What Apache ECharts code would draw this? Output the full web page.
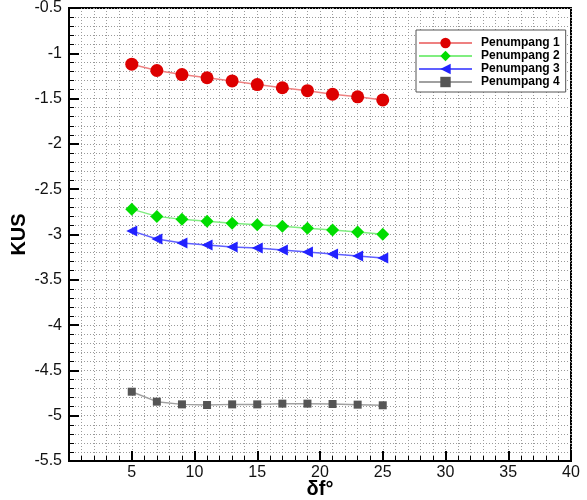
<!DOCTYPE html>
<html>
<head>
<meta charset="utf-8">
<script src="https://cdn.jsdelivr.net/npm/echarts@6/dist/echarts.min.js"></script>
<style>
  html, body { margin: 0; padding: 0; background: #fff; }
  #chart { width: 587px; height: 500px; }
</style>
</head>
<body>
<div id="chart"></div>
<script>
// sudut flap (derajat)
const deltaF = [5, 7, 9, 11, 13, 15, 17, 19, 21, 23, 25]
// KUS per penumpang
const penumpang1 = [-1.12, -1.19, -1.235, -1.27, -1.305, -1.345, -1.38, -1.413, -1.452, -1.48, -1.515]
const penumpang2 = [-2.72, -2.80, -2.833, -2.855, -2.877, -2.892, -2.91, -2.932, -2.95, -2.972, -2.998]
const penumpang3 = [-2.96, -3.05, -3.094, -3.116, -3.138, -3.15, -3.171, -3.193, -3.215, -3.237, -3.26]
const penumpang4 = [-4.735, -4.845, -4.875, -4.882, -4.875, -4.875, -4.867, -4.867, -4.871, -4.878, -4.885]
const seriesNames = ['Penumpang 1', 'Penumpang 2', 'Penumpang 3', 'Penumpang 4']

const chart = echarts.init(document.getElementById('chart'))

const gridLine = { show: true, lineStyle: { color: '#9a9a9a', width: 1, type: [1, 2] } }
const font = 'Liberation Sans, Arial, sans-serif'

function pairs(ys) {
  return deltaF.map((x, i) => [x, ys[i]])
}

const option = {
  animation: false,
  grid: {
    left: 69, right: 16, top: 8, bottom: 39,
    outerBoundsMode: 'none',
    containLabel: false,
    show: true, borderColor: '#000', borderWidth: 2, backgroundColor: '#fff'
  },
  legend: {
    orient: 'vertical',
    left: 416,
    top: 30,
    width: 143,
    padding: [7, 6, 4, 2],
    itemGap: 1,
    itemWidth: 53,
    itemHeight: 13,
    backgroundColor: '#fff',
    borderColor: '#555',
    borderWidth: 1,
    borderRadius: 0,
    textStyle: { fontFamily: font, fontWeight: 'bold', fontSize: 12, color: '#000', padding: [0, 0, 0, 4] },
    data: seriesNames
  },
  xAxis: {
    type: 'value',
    min: 0,
    max: 40,
    interval: 5,
    name: 'δf°',
    nameLocation: 'middle',
    nameGap: 18,
    nameMoveOverlap: false,
    nameTextStyle: { fontFamily: font, fontWeight: 'bold', fontSize: 20, color: '#000' },
    axisLine: { show: true, lineStyle: { color: '#000', width: 2 } },
    axisTick: { show: true, inside: true, length: 10, lineStyle: { color: '#000', width: 2 } },
    minorTick: { show: true, splitNumber: 5, length: 5, lineStyle: { color: '#000', width: 1 } },
    axisLabel: {
      fontFamily: font, fontSize: 16, color: '#111', margin: 4,
      formatter: v => (v === 0 ? '' : String(v))
    },
    splitLine: gridLine,
    minorSplitLine: gridLine
  },
  yAxis: {
    type: 'value',
    min: -5.5,
    max: -0.5,
    interval: 0.5,
    name: 'KUS',
    nameLocation: 'middle',
    nameRotate: 90,
    nameGap: 40,
    nameMoveOverlap: false,
    nameTextStyle: { fontFamily: font, fontWeight: 'bold', fontSize: 20, color: '#000' },
    axisLine: { show: true, lineStyle: { color: '#000', width: 2 } },
    axisTick: { show: true, inside: true, length: 10, lineStyle: { color: '#000', width: 2 } },
    minorTick: { show: true, splitNumber: 5, length: 5, lineStyle: { color: '#000', width: 1 } },
    axisLabel: { fontFamily: font, fontSize: 16, color: '#111', margin: 7 },
    splitLine: gridLine,
    minorSplitLine: gridLine
  },
  series: [
    {
      name: seriesNames[0],
      type: 'line',
      data: pairs(penumpang1),
      symbol: 'circle',
      symbolSize: 13,
      itemStyle: { color: '#dd0000' },
      lineStyle: { color: '#ee8080', width: 1.5 }
    },
    {
      name: seriesNames[1],
      type: 'line',
      data: pairs(penumpang2),
      symbol: 'diamond',
      symbolSize: 13,
      itemStyle: { color: '#00dd00' },
      lineStyle: { color: '#80ee80', width: 1.5 }
    },
    {
      name: seriesNames[2],
      type: 'line',
      data: pairs(penumpang3),
      symbol: 'triangle',
      symbolSize: 11,
      symbolRotate: 90,
      itemStyle: { color: '#2222ff' },
      lineStyle: { color: '#6060ff', width: 1.5 }
    },
    {
      name: seriesNames[3],
      type: 'line',
      data: pairs(penumpang4),
      symbol: 'rect',
      symbolSize: 8,
      itemStyle: { color: '#555555' },
      lineStyle: { color: '#a0a0a0', width: 1.5 }
    }
  ]
}

chart.setOption(option)
</script>
</body>
</html>
